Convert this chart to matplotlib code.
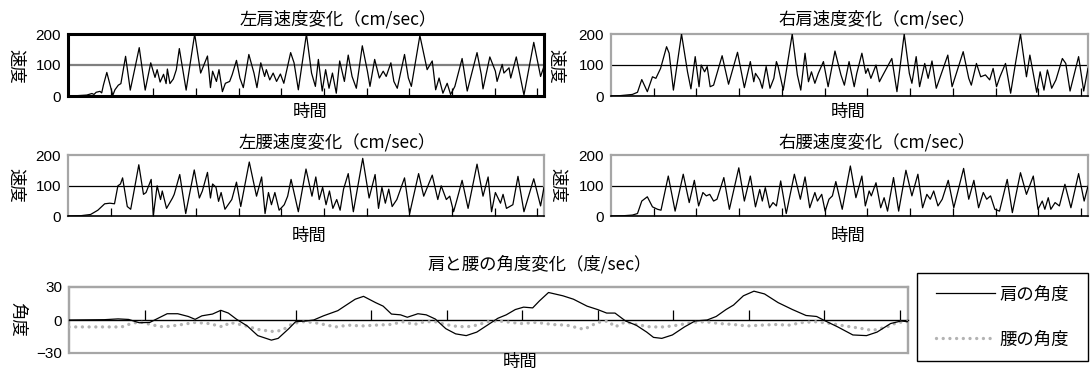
import matplotlib
matplotlib.use("Agg")
import matplotlib.pyplot as plt
from matplotlib.patches import Rectangle

plt.rcParams['font.family'] = ['Liberation Sans', 'Noto Sans CJK JP', 'DejaVu Sans']
JP = ['Noto Sans CJK JP', 'DejaVu Sans']

# ---------------- data (time index, value) ----------------
left_shoulder = [
    (0, 0), (2, 1), (4.4, 3), (5.6, 8), (6.1, 5), (6.6, 12), (7.5, 15), (7.9, 10), (8.3, 35),
    (9.1, 76), (10.5, 2), (11.0, 20), (11.8, 35), (12.4, 40), (13.5, 128), (14.6, 19),
    (16.7, 156), (18.1, 19), (19.4, 107), (20.4, 60), (20.9, 85), (21.6, 45), (22.4, 70),
    (23.0, 40), (23.3, 87), (23.9, 40), (24.7, 55), (25.4, 85), (26.1, 153), (27.7, 19),
    (29.7, 200), (31.1, 74), (32.7, 129), (33.4, 27), (33.9, 80), (34.8, 47), (35.4, 85),
    (36.2, 14), (36.9, 41), (37.9, 47), (38.5, 69), (39.5, 115), (40.3, 58), (41.1, 27),
    (42.4, 134), (43.6, 74), (44.3, 27), (45.2, 107), (46.1, 63), (46.5, 85), (47.3, 52),
    (48.1, 74), (48.9, 47), (49.8, 71), (50.6, 41), (52.2, 140), (53.0, 107), (54.0, 20),
    (55.9, 200), (57.1, 74), (58.0, 31), (58.7, 118), (59.6, 16), (60.4, 85), (61.2, 25),
    (62.0, 74), (62.9, 9), (63.7, 113), (64.8, 47), (65.7, 132), (66.6, 63), (67.6, 25),
    (69.0, 162), (70.2, 80), (70.8, 31), (71.9, 118), (73.0, 58), (73.9, 80), (74.6, 63),
    (75.7, 107), (76.4, 47), (77.2, 25), (78.9, 134), (79.8, 58), (80.5, 31), (82.5, 195),
    (84.2, 85), (85.4, 113), (86.2, 20), (87.0, 58), (87.9, 9), (88.9, 41), (89.7, 5),
    (90.7, 31), (92.4, 121), (93.6, 16), (95.9, 140), (96.9, 69), (97.3, 23), (98.9, 126),
    (100.2, 80), (100.6, 47), (101.8, 102), (102.2, 74), (103.4, 91), (103.8, 58),
    (105.1, 126), (106.9, 3), (109.2, 173), (110.8, 63), (111.6, 96),
]
right_shoulder = [
    (0, 0), (2, 1), (3.5, 3), (5.0, 5), (6.2, 12), (7.2, 53), (8.5, 14), (9.7, 62), (10.5, 57),
    (11.6, 89), (13.0, 159), (13.6, 138), (14.6, 19), (16.5, 200), (17.9, 78), (18.7, 23),
    (19.7, 127), (20.6, 30), (21.1, 100), (21.9, 78), (22.5, 95), (23.2, 30), (24.0, 35),
    (26.0, 130), (27.5, 38), (29.6, 141), (31.2, 27), (32.6, 111), (33.4, 46), (33.8, 73),
    (34.8, 52), (35.4, 25), (36.3, 95), (37.2, 25), (38.1, 57), (38.7, 111), (39.1, 95),
    (40.3, 19), (42.4, 200), (43.6, 68), (44.4, 19), (45.4, 138), (46.2, 46), (46.9, 78),
    (47.7, 41), (48.5, 73), (49.7, 111), (50.8, 30), (52.4, 145), (53.8, 68), (54.6, 35),
    (55.7, 111), (56.9, 30), (57.5, 73), (58.7, 138), (59.6, 73), (60.1, 89), (60.8, 57),
    (62.0, 100), (62.8, 46), (63.4, 62), (65.7, 121), (66.9, 14), (68.6, 200), (69.8, 73),
    (70.4, 41), (71.4, 127), (72.2, 30), (73.4, 105), (74.2, 57), (75.1, 113), (76.1, 25),
    (78.8, 132), (79.8, 30), (82.4, 143), (83.7, 57), (84.3, 35), (85.5, 105), (86.5, 62),
    (87.6, 68), (88.6, 52), (89.4, 89), (90.2, 30), (91.0, 62), (92.3, 105), (93.5, 9),
    (94.7, 111), (95.8, 200), (97.2, 62), (98.0, 132), (99.6, 12), (100.4, 78), (101.3, 19),
    (102.1, 84), (102.5, 62), (103.1, 25), (104.1, 52), (105.6, 121), (106.4, 105),
    (107.4, 16), (109.4, 127), (110.6, 16), (111.6, 89),
]
left_waist = [
    (0, 0), (3, 1), (5.3, 5), (7.0, 19), (8.6, 40), (9.8, 42), (10.9, 40), (11.7, 99),
    (12.3, 105), (12.8, 125), (13.9, 31), (14.7, 22), (16.6, 168), (17.7, 71), (18.3, 77),
    (19.5, 120), (20.0, 2), (20.9, 99), (21.7, 54), (22.1, 82), (23.1, 25), (24.5, 59),
    (24.9, 71), (26.2, 136), (27.6, 8), (29.6, 151), (30.8, 59), (31.5, 82), (32.7, 143),
    (33.4, 59), (33.9, 105), (34.7, 94), (35.3, 48), (35.9, 77), (36.8, 22), (38.4, 54),
    (39.5, 111), (40.5, 31), (42.5, 177), (44.2, 65), (45.4, 128), (46.2, 8), (47.0, 77),
    (47.7, 37), (48.5, 77), (49.5, 19), (50.7, 37), (51.5, 65), (52.3, 120), (54.0, 14),
    (55.8, 154), (57.2, 65), (58.1, 128), (58.9, 54), (59.7, 94), (60.5, 37), (61.3, 82),
    (62.1, 25), (63.0, 54), (63.8, 19), (64.6, 88), (65.7, 139), (66.9, 14), (69.1, 189),
    (70.6, 59), (72.0, 136), (72.8, 25), (73.6, 94), (74.4, 42), (75.2, 88), (76.0, 31),
    (77.1, 54), (78.9, 125), (80.1, 8), (82.2, 139), (83.4, 65), (85.4, 134), (86.7, 54),
    (87.5, 99), (88.7, 54), (89.5, 65), (90.4, 14), (91.2, 54), (92.4, 117), (93.8, 25),
    (95.9, 170), (97.3, 65), (98.5, 128), (99.3, 14), (100.2, 77), (101.4, 42), (102.0, 71),
    (102.8, 25), (104.3, 37), (105.5, 130), (106.9, 14), (109.2, 122), (110.8, 33),
    (111.6, 94),
]
right_waist = [
    (0, 0), (3, 1), (5.0, 3), (6.2, 8), (7.2, 49), (8.5, 63), (9.7, 30), (10.9, 22),
    (11.7, 19), (13.4, 131), (15.0, 16), (16.9, 137), (18.3, 44), (19.5, 117), (20.5, 33),
    (21.5, 77), (22.3, 66), (23.1, 71), (24.0, 49), (24.8, 55), (26.4, 126), (27.7, 22),
    (29.9, 158), (31.2, 49), (32.6, 131), (33.8, 30), (34.8, 87), (35.4, 49), (36.1, 93),
    (37.1, 27), (37.9, 44), (38.7, 33), (39.7, 115), (41.0, 8), (42.9, 137), (44.3, 55),
    (45.4, 128), (46.5, 27), (47.7, 77), (48.3, 49), (49.3, 71), (50.1, 16), (51.0, 55),
    (51.8, 66), (52.6, 113), (54.1, 22), (56.0, 164), (57.3, 60), (58.7, 131), (59.5, 33),
    (60.4, 82), (60.9, 66), (62.0, 109), (63.1, 27), (63.9, 60), (64.7, 16), (66.1, 126),
    (67.3, 16), (69.0, 150), (70.4, 66), (71.8, 137), (72.9, 27), (73.9, 71), (74.7, 55),
    (75.5, 82), (76.5, 33), (77.5, 55), (78.9, 117), (80.2, 27), (82.5, 156), (83.7, 55),
    (84.9, 117), (86.0, 27), (87.1, 77), (87.9, 55), (88.8, 66), (89.8, 22), (90.9, 16),
    (92.7, 120), (93.9, 11), (95.8, 142), (97.2, 71), (98.8, 131), (99.9, 22), (100.9, 49),
    (101.5, 22), (102.3, 60), (102.9, 22), (103.9, 44), (104.9, 33), (106.2, 104),
    (107.6, 27), (109.4, 139), (110.7, 49), (111.6, 98),
]
shoulder_angle = [
    (0, 0), (4.7, 0.3), (6.5, 1.0), (7.9, 0.5), (9.3, -2.5), (10.7, -2.2), (11.8, 1.6),
    (13.0, 5.7), (14.4, 5.7), (15.8, 3.2), (16.7, 0.6), (17.6, 3.8), (19.0, 5.4), (20.1, 8.8),
    (21.1, 6.3), (22.2, 0.6), (23.6, -5.4), (25.0, -14.2), (26.8, -18.3), (27.7, -16.7),
    (29.1, -7.9), (30.0, -1.6), (31.4, -0.9), (32.4, 0), (33.7, 3.8), (35.6, 8.5),
    (36.5, 12.6), (37.9, 18.9), (39.0, 21.5), (40.6, 15.8), (41.6, 12.6), (42.7, 5.4),
    (43.9, 4.7), (44.8, 2.5), (46.2, 5.7), (47.3, 4.7), (48.5, 0.9), (49.9, -7.9),
    (51.2, -12.6), (52.6, -14.2), (54.0, -11.0), (55.4, -4.7), (56.8, 1.6), (57.9, 4.7),
    (59.1, 9.5), (60.2, 11.7), (61.4, 11.0), (62.3, 17.4), (63.5, 25.0), (65.4, 22.0),
    (66.8, 18.9), (68.6, 12.6), (70.0, 9.5), (71.2, 6.3), (72.3, 6.3), (73.7, -0.9),
    (75.1, -4.7), (76.5, -11.0), (77.4, -15.8), (78.5, -16.7), (79.9, -13.6), (81.5, -6.3),
    (82.9, -0.9), (84.5, 0), (85.7, 3.2), (87.0, 9.5), (88.0, 13.6), (89.3, 22.0),
    (90.7, 26.2), (92.1, 23.7), (93.9, 15.8), (95.8, 9.5), (97.6, 4.1), (99.0, 3.2),
    (99.9, 0), (101.8, -6.3), (103.8, -13.6), (105.6, -14.2), (107.0, -11.0), (108.8, -3.2),
    (110.2, -0.9), (111.1, -1.6),
]
waist_angle = [
    (0, -6.3), (7.0, -6.3), (7.5, -4.7), (9.3, -1.6), (11.2, -4.7), (12.5, -6.3), (14.4, -4.7),
    (16.7, -2.2), (18.5, -3.2), (20.4, -6.3), (21.3, -2.2), (23.1, -4.7), (25.0, -8.5),
    (26.8, -10.4), (28.2, -9.5), (29.6, -3.2), (31.0, -1.6), (32.4, -2.2), (34.2, -4.7),
    (35.3, -6.3), (37.0, -4.7), (38.8, -5.4), (40.6, -4.7), (42.5, -4.1), (44.3, -1.6),
    (45.7, -4.1), (47.1, -1.6), (48.5, -1.6), (49.4, -3.2), (50.8, -5.4), (52.6, -6.3),
    (54.0, -4.7), (55.4, -1.6), (56.8, -0.9), (58.6, -2.2), (59.9, -3.2), (61.8, -2.2),
    (63.1, -3.2), (64.0, -4.1), (65.9, -4.7), (68.2, -8.5), (70.0, -2.2), (71.4, -0.9),
    (72.3, -6.3), (73.7, -1.6), (75.1, -4.1), (77.0, -6.3), (78.8, -6.3), (80.6, -4.7),
    (82.5, -2.2), (84.3, -1.6), (86.1, -3.2), (88.0, -4.1), (89.8, -5.4), (91.7, -4.7),
    (93.5, -4.1), (95.3, -4.7), (97.2, -2.2), (99.0, -1.6), (100.9, -3.2), (102.7, -5.4),
    (104.6, -7.3), (106.4, -9.5), (108.3, -6.3), (109.7, -2.2), (111.1, -1.6),
]
vel_ticks = [0, 100, 200]
ang_ticks = [-30, 0, 30]
ang_tick_labels = ['−30', '0', '30']
tick_positions = list(range(10, 111, 10))

W, H = 1092, 372
fig = plt.figure(figsize=(W / 100, H / 100), dpi=100)


def rect_px(x0, y0, x1, y1):
    return [x0 / W, 1 - y1 / H, (x1 - x0) / W, (y1 - y0) / H]


def ftext(x, y, s, **kw):
    fig.text(x / W, 1 - y / H, s, ha='center', va='center', family=JP, **kw)


GRAY = '#a6a6a6'


def vel_panel(box, data, title, tpos, xlpos, ylpos, selected=False):
    ax = fig.add_axes(rect_px(*box))
    t, v = zip(*data)
    ax.plot(t, v, color='black', lw=0.9, zorder=3, solid_joinstyle='round')
    ax.set_xlim(0, 111.6)
    ax.set_ylim(0, 200)
    ax.set_yticks(vel_ticks)
    ax.set_yticklabels([str(k) for k in vel_ticks])
    ax.set_xticks(tick_positions)
    ax.tick_params(axis='x', direction='in', length=5.5, width=0.9, labelbottom=False, color='black')
    ax.tick_params(axis='y', length=0, pad=5, labelsize=11)
    if selected:
        ax.axhline(100, color='#7f7f7f', lw=1.6, zorder=2)
        for s in ax.spines.values():
            s.set_color('black')
            s.set_linewidth(2.2)
    else:
        ax.axhline(100, color='black', lw=0.9, zorder=2)
        for name, s in ax.spines.items():
            s.set_color(GRAY)
            s.set_linewidth(1.6)
        ax.spines['bottom'].set_color('black')
        ax.spines['bottom'].set_linewidth(1.2)
    ftext(*tpos, title, fontsize=12.5)
    ftext(*xlpos, '時間', fontsize=12.5)
    ftext(*ylpos, '速度', fontsize=12.5, rotation=-90)
    return ax


vel_panel((68, 34, 544, 96), left_shoulder, '左肩速度変化（cm/sec）', (338, 19), (310, 112), (15.5, 66), True)
vel_panel((611, 34, 1088, 96), right_shoulder, '右肩速度変化（cm/sec）', (877, 19), (848, 112), (556, 66))
vel_panel((68, 155, 544, 216), left_waist, '左腰速度変化（cm/sec）', (337, 142), (309, 236), (15.5, 185))
vel_panel((611, 155, 1088, 216), right_waist, '右腰速度変化（cm/sec）', (877, 142), (848, 236), (558, 185))

# ---------------- angle panel ----------------
ax = fig.add_axes(rect_px(69, 287, 908, 353))
t, a = zip(*shoulder_angle)
ax.plot(t, a, color='black', lw=0.9, zorder=4, label='肩の角度')
t2, a2 = zip(*waist_angle)
ax.plot(t2, a2, color='#b3b3b3', lw=2.4, linestyle=(0, (0.01, 2.0)),
        dash_capstyle='round', zorder=3, label='腰の角度')
ax.set_xlim(0, 111.1)
ax.set_ylim(-30, 30)
ax.set_yticks(ang_ticks)
ax.set_yticklabels(ang_tick_labels)
ax.set_xticks(tick_positions)
for name, s in ax.spines.items():
    s.set_color(GRAY)
    s.set_linewidth(1.6)
ax.spines['bottom'].set_position(('data', 0))
ax.spines['bottom'].set_color('black')
ax.spines['bottom'].set_linewidth(1.0)
ax.add_patch(Rectangle((0, 0), 1, 1, transform=ax.transAxes, fill=False,
                       edgecolor=GRAY, lw=1.6, clip_on=False, zorder=1))
ax.tick_params(axis='x', direction='in', length=7, width=0.9, labelbottom=False, color='black')
ax.tick_params(axis='y', length=0, pad=5, labelsize=11)
ftext(540, 264, '肩と腰の角度変化（度/sec）', fontsize=12.5)
ftext(520, 362, '時間', fontsize=12.5)
ftext(17, 319, '角度', fontsize=12.5, rotation=-90)

# legend box
fig.patches.append(Rectangle((917 / W, 1 - 361 / H), (1088 - 917) / W, (361 - 273) / H,
                             transform=fig.transFigure, fill=False, edgecolor='black', lw=1.0))
h, l = ax.get_legend_handles_labels()
fig.legend(h, l, loc='center', bbox_to_anchor=((917 + 1088) / 2 / W, 1 - 317 / H),
           frameon=False, prop={'family': JP, 'size': 12.5}, handlelength=3.4,
           handletextpad=0.3, labelspacing=1.55)

fig.savefig('out.png', dpi=100)
